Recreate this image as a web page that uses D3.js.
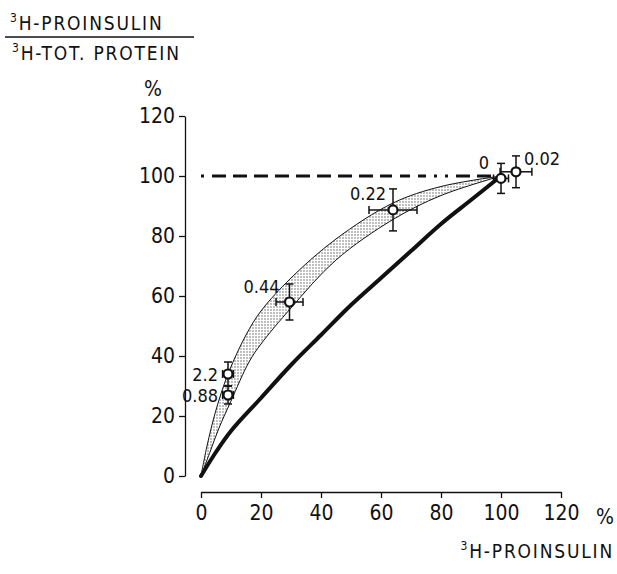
<!DOCTYPE html>
<html>
<head>
<meta charset="utf-8">
<script src="https://cdn.jsdelivr.net/npm/d3@7"></script>
<style>
  body { margin: 0; background: #fff; }
  svg { display: block; }
  text { font-family: "DejaVu Sans Condensed", "DejaVu Sans", sans-serif; fill: #111; }
</style>
</head>
<body>
<svg id="chart" width="617" height="574"></svg>
<script>
// axis ticks
var xTicks = [0, 20, 40, 60, 80, 100, 120];
var yTicks = [0, 20, 40, 60, 80, 100, 120];

// measured points (labels = dose), with error bars
var ptLabel = ["2.2", "0.88", "0.44", "0.22", "0", "0.02"];
var ptX     = [9, 9, 29.5, 64, 100, 105];
var ptY     = [34, 27, 58, 88.7, 99.2, 101.4];
var ptXErr  = [1.8, 1.8, 4.5, 8, 2.5, 5.3];
var ptYErr  = [4, 3, 6, 7, 5, 5.3];

// shaded band edges
var bandUpX = [0, 2, 5, 9, 15, 20, 30, 45, 64, 80, 100];
var bandUpY = [0, 10, 22, 34, 47, 55, 66, 79, 91, 96.5, 100];
var bandLoX = [0, 3, 6, 10, 16, 20, 30, 45, 64, 80, 100];
var bandLoY = [0, 8, 16, 25, 38, 44, 56, 72, 85.5, 93.5, 100];

// thick reference curve
var curveX = [0, 5, 10, 20, 30, 40, 50, 60, 70, 80, 90, 100];
var curveY = [0, 8, 15, 26, 37, 47, 57, 66, 75, 84, 92, 100];

// dashed 100 % line
var dashX = [0, 100];
var dashY = [100, 100];

var svg = d3.select("#chart");

var xScale = d3.scaleLinear().domain([0, 120]).range([201, 561]);
var yScale = d3.scaleLinear().domain([0, 120]).range([476, 116]);

// stipple pattern
var defs = svg.append("defs");
var pat = defs.append("pattern")
    .attr("id", "dots")
    .attr("width", 3).attr("height", 3)
    .attr("patternUnits", "userSpaceOnUse");
pat.append("circle").attr("cx", 1).attr("cy", 1).attr("r", 0.65).attr("fill", "#444");

// axes
var xAxis = svg.append("g")
    .attr("transform", "translate(0,492)")
    .call(d3.axisBottom(xScale).tickValues(xTicks).tickSize(6).tickSizeOuter(0).tickPadding(7));
var yAxis = svg.append("g")
    .attr("transform", "translate(185,0)")
    .call(d3.axisLeft(yScale).tickValues(yTicks).tickSize(6).tickSizeOuter(0).tickPadding(4));

[xAxis, yAxis].forEach(function(a) {
    a.selectAll("path, line").attr("stroke", "#111").attr("stroke-width", 1.3);
    a.selectAll("text").style("font-size", "21px").attr("fill", "#111");
});

var pts = function(xs, ys) { return xs.map(function(d, i) { return [d, ys[i]]; }); };

var line = d3.line()
    .x(function(d) { return xScale(d[0]); })
    .y(function(d) { return yScale(d[1]); })
    .curve(d3.curveCatmullRom.alpha(0.5));

// band
var up = pts(bandUpX, bandUpY);
var lo = pts(bandLoX, bandLoY);
var bandPath = line(up) + "L" + line(lo.slice().reverse()).substring(1) + "Z";
svg.append("path").attr("d", bandPath).attr("fill", "url(#dots)").attr("stroke", "none");
svg.append("path").attr("d", line(up)).attr("fill", "none").attr("stroke", "#111").attr("stroke-width", 1);
svg.append("path").attr("d", line(lo)).attr("fill", "none").attr("stroke", "#111").attr("stroke-width", 1);

// thick curve
svg.append("path").attr("d", line(pts(curveX, curveY)))
    .attr("fill", "none").attr("stroke", "#111").attr("stroke-width", 4)
    .attr("stroke-linecap", "round");

// dashed line
svg.append("path").attr("d", d3.line()(pts(dashX, dashY).map(function(d) { return [xScale(d[0]), yScale(d[1])]; })))
    .attr("fill", "none").attr("stroke", "#111").attr("stroke-width", 3)
    .attr("stroke-dasharray", "3,8,14,7,14,7,14,7,14,7,14,7,14,7,14,7,14,7,12,8,10,8,8,8,3,8");

// error bars + points
var cap = 4;
var eb = svg.append("g").attr("stroke", "#111").attr("stroke-width", 1.5);
ptX.forEach(function(d, i) {
    var cx = xScale(d), cy = yScale(ptY[i]);
    var x0 = xScale(d - ptXErr[i]), x1 = xScale(d + ptXErr[i]);
    var y0 = yScale(ptY[i] - ptYErr[i]), y1 = yScale(ptY[i] + ptYErr[i]);
    eb.append("line").attr("x1", x0).attr("x2", x1).attr("y1", cy).attr("y2", cy);
    eb.append("line").attr("x1", x0).attr("x2", x0).attr("y1", cy - cap).attr("y2", cy + cap);
    eb.append("line").attr("x1", x1).attr("x2", x1).attr("y1", cy - cap).attr("y2", cy + cap);
    eb.append("line").attr("x1", cx).attr("x2", cx).attr("y1", y0).attr("y2", y1);
    eb.append("line").attr("x1", cx - cap).attr("x2", cx + cap).attr("y1", y0).attr("y2", y0);
    eb.append("line").attr("x1", cx - cap).attr("x2", cx + cap).attr("y1", y1).attr("y2", y1);
});
svg.selectAll("circle.pt").data(ptX).enter().append("circle")
    .attr("class", "pt")
    .attr("cx", function(d) { return xScale(d); })
    .attr("cy", function(d, i) { return yScale(ptY[i]); })
    .attr("r", 4.5)
    .attr("fill", "#fff").attr("stroke", "#111").attr("stroke-width", 2.2);

// point labels (offsets from the point)
var labDx = [-10, -10, -10, -7, -12, 8];
var labDy = [7, 7, -9, -10, -9, -7];
var labAnchor = ["end", "end", "end", "end", "end", "start"];
svg.selectAll("text.pl").data(ptLabel).enter().append("text")
    .attr("class", "pl")
    .attr("x", function(d, i) { return xScale(ptX[i]) + labDx[i]; })
    .attr("y", function(d, i) { return yScale(ptY[i]) + labDy[i]; })
    .attr("text-anchor", function(d, i) { return labAnchor[i]; })
    .style("font-size", "18px")
    .text(function(d) { return d; });

// titles
function supLabel(x, y, txt, anchor) {
    var t = svg.append("text").attr("x", x).attr("y", y)
        .attr("text-anchor", anchor || "start")
        .style("font-size", "19px").style("letter-spacing", "1.8px");
    t.append("tspan").attr("dy", -8).style("font-size", "12px").text("3");
    t.append("tspan").attr("dy", 8).text(txt);
    return t;
}
supLabel(10, 30, "H-PROINSULIN");
svg.append("line").attr("x1", 5).attr("x2", 194).attr("y1", 37).attr("y2", 37)
    .attr("stroke", "#111").attr("stroke-width", 1.3);
supLabel(12, 60, "H-TOT. PROTEIN");
svg.append("text").attr("x", 153).attr("y", 96).attr("text-anchor", "middle")
    .style("font-size", "21px").text("%");
svg.append("text").attr("x", 596).attr("y", 524)
    .style("font-size", "21px").text("%");
supLabel(614, 558, "H-PROINSULIN", "end");
</script>
</body>
</html>
